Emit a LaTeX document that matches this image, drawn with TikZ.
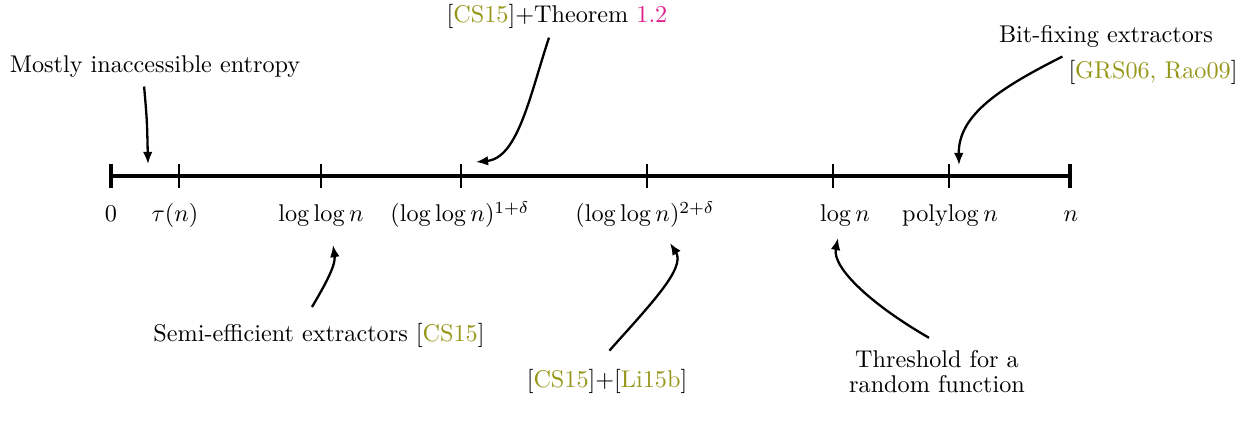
\documentclass[tikz,border=0pt]{standalone}
\usetikzlibrary{arrows.meta}
\definecolor{citecol}{RGB}{150,150,25}
\definecolor{thmcol}{RGB}{225,30,140}
\newcommand{\citekey}[1]{[\textcolor{citecol}{#1}]}
\begin{document}
\begin{tikzpicture}[x=0.413pt,y=-0.413pt,
  axisline/.style={line width=1.25pt},
  tick/.style={line width=1pt},
  endtick/.style={line width=1.4pt},
  pointer/.style={line width=0.95pt,-{Latex[length=5pt,width=4pt]}},
  ticklabel/.style={anchor=base,inner sep=0pt},
  note/.style={anchor=base}]
\useasboundingbox (0,0) rectangle (1252,428);
% the axis and its ticks
\coordinate (t0) at (111,176);
\coordinate (t1) at (179,176);
\coordinate (t2) at (321,176);
\coordinate (t3) at (461,176);
\coordinate (t4) at (647,176);
\coordinate (t5) at (833,176);
\coordinate (t6) at (949,176);
\coordinate (t7) at (1070,176);
\draw[axisline] (t0) -- (t7);
\draw[endtick] ([yshift=-5pt]t0) -- ([yshift=5pt]t0);
\draw[endtick] ([yshift=-5pt]t7) -- ([yshift=5pt]t7);
\foreach \t in {t1,t2,t3,t4,t5,t6}
  \draw[tick] ([yshift=-5pt]\t) -- ([yshift=5pt]\t);
% labels under the axis
\node[ticklabel] (l0) at (111,222) {$0$};
\node[ticklabel] (l1) at (175,222) {$\tau(n)$};
\node[ticklabel] (l2) at (321,222) {$\log\log n$};
\node[ticklabel] (l3) at (460,222) {$(\log\log n)^{1+\delta}$};
\node[ticklabel] (l4) at (645,222) {$(\log\log n)^{2+\delta}$};
\node[ticklabel] (l5) at (845,222) {$\log n$};
\node[ticklabel] (l6) at (950,222) {$\mathop{\rm polylog} n$};
\node[ticklabel] (l7) at (1071,222) {$n$};
% notes above
\node[note] (entropy) at (155,73) {Mostly inaccessible entropy};
\node[note] (thm) at (557,23) {\citekey{CS15}+Theorem \textcolor{thmcol}{1.2}};
\node[note] (bitfix) at (1106,43) {Bit-fixing extractors};
\node[note] (bitfixref) at (1153,79) {\citekey{GRS06, \textcolor{citecol}{Rao09}}};
% notes below
\node[note] (semi) at (319,341) {Semi-efficient extractors \citekey{CS15}};
\node[note] (li) at (607,387) {\citekey{CS15}+\citekey{Li15b}};
\node[note,align=center] (thresh) at (937,392) {Threshold for a\\[-1.8pt] random function};
% pointers
\coordinate (entropyend) at (148,164);
\coordinate (thmend) at (476,162);
\coordinate (bitfixend) at (959,165);
\coordinate (semiend) at (333,245);
\coordinate (liend) at (670,243);
\coordinate (threshend) at (838,238);
\draw[pointer] ([xshift=-4.5pt]entropy.south) .. controls (147,120) .. (entropyend);
\draw[pointer] ([xshift=-3.3pt]thm.south) .. controls (530,95) and (518,158) .. (thmend);
\draw[pointer] ([xshift=-18pt]bitfix.south) .. controls (1000,88) and (958,115) .. (bitfixend);
\draw[pointer] ([xshift=-2.9pt,yshift=3pt]semi.north) .. controls (325,285) and (336,265) .. (semiend);
\draw[pointer] ([xshift=1pt,yshift=4pt]li.north) .. controls (650,305) and (686,268) .. (liend);
\draw[pointer] ([xshift=-3.3pt,yshift=1.6pt]thresh.north) .. controls (872,305) and (832,268) .. (threshend);
\end{tikzpicture}
\end{document}
